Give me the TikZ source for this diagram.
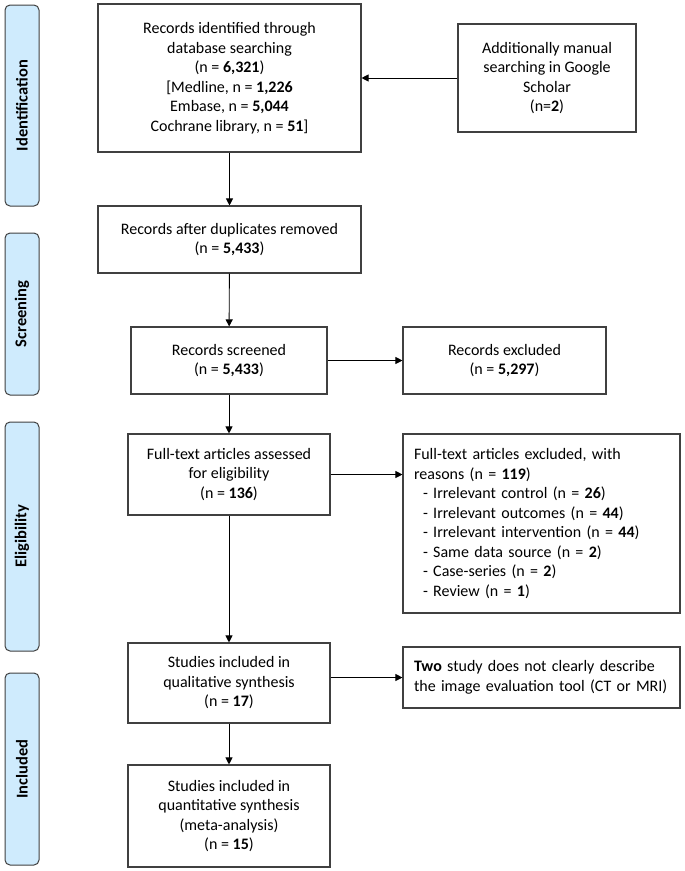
\documentclass[tikz,border=0pt]{standalone}
\usepackage{fontspec}
\setmainfont{Carlito}
\usetikzlibrary{arrows.meta}
\definecolor{phaseblue}{RGB}{207,235,253}
\definecolor{edgegray}{RGB}{64,64,64}
\begin{document}
\begin{tikzpicture}[x=1pt,y=-1pt,
    >={Triangle[length=7pt,width=7pt]},
    box/.style={draw=edgegray,line width=1.1pt,inner sep=0pt,align=center,
      font=\fontsize{16}{19.5}\selectfont},
    leftbox/.style={box,align=left,inner xsep=11pt},
    phase/.style={draw=edgegray,line width=1pt,fill=phaseblue,rounded corners=5pt,
      rotate=90,minimum height=34pt,inner sep=0pt,font=\fontsize{16.5}{19}\selectfont\bfseries},
    link/.style={->,line width=0.9pt}]
  \useasboundingbox (0,0) rectangle (685,871);
  \node[phase,minimum width=201pt] (identification) at (22,105.5) {Identification};
  \node[phase,minimum width=162pt] (screening) at (22,314) {Screening};
  \node[phase,minimum width=229pt] (eligibility) at (22,536.5) {Eligibility};
  \node[phase,minimum width=192pt] (included) at (22,769) {Included};
  \node[box,minimum width=263pt,minimum height=148pt] (records) at (229.5,78)
    {Records identified through\\database searching\\(n = \textbf{6,321})\\
     {[}Medline, n = \textbf{1,226}\\Embase, n = \textbf{5,044}\\Cochrane library, n = \textbf{51}]};
  \node[box,minimum width=178pt,minimum height=108pt] (manual) at (547,78)
    {Additionally manual\\searching in Google\\Scholar\\(n=\textbf{2})};
  \node[box,minimum width=263pt,minimum height=67pt] (dedup) at (229.5,239.5)
    {Records after duplicates removed\\(n = \textbf{5,433})};
  \node[box,minimum width=196pt,minimum height=67pt] (screened) at (229,360.5)
    {Records screened\\(n = \textbf{5,433})};
  \node[box,minimum width=203pt,minimum height=67pt] (excluded) at (504.5,360.5)
    {Records excluded\\(n = \textbf{5,297})};
  \node[box,minimum width=202pt,minimum height=81pt] (fulltext) at (229,474.5)
    {Full-text articles assessed\\for eligibility\\(n = \textbf{136})};
  \node[leftbox,text width=255pt,minimum height=179pt] (ftexcluded) at (541.5,523.5)
    {Full-text articles excluded, with\\reasons (n = \textbf{119})\\
     \hspace*{9pt}- Irrelevant control (n = \textbf{26})\\
     \hspace*{9pt}- Irrelevant outcomes (n = \textbf{44})\\
     \hspace*{9pt}- Irrelevant intervention (n = \textbf{44})\\
     \hspace*{9pt}- Same data source (n = \textbf{2})\\
     \hspace*{9pt}- Case-series (n = \textbf{2})\\
     \hspace*{9pt}- Review (n = \textbf{1})};
  \node[box,minimum width=202pt,minimum height=80pt] (qualitative) at (229,683)
    {Studies included in\\qualitative synthesis\\(n = \textbf{17})};
  \node[leftbox,text width=255pt,minimum height=61pt] (unclear) at (541.5,677.5)
    {\textbf{Two} study does not clearly describe\\the image evaluation tool (CT or MRI)};
  \node[box,minimum width=202pt,minimum height=102pt] (quantitative) at (229,816)
    {Studies included in\\quantitative synthesis\\(meta-analysis)\\(n = \textbf{15})};
  \draw[link] (manual) -- (records);
  \draw[link] (records) -- (dedup);
  \draw[link] (dedup) -- (screened);
  \draw[link] (screened) -- (excluded);
  \draw[link] (screened) -- (fulltext);
  \draw[link] (fulltext.east) -- (fulltext.east -| ftexcluded.west);
  \draw[link] (fulltext) -- (qualitative);
  \draw[link] (unclear.west -| qualitative.east) -- (unclear.west);
  \draw[link] (qualitative) -- (quantitative);
\end{tikzpicture}
\end{document}
